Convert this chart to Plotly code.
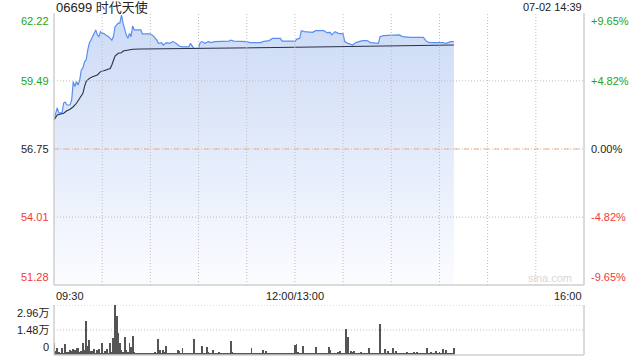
import plotly.graph_objects as go

# ---------------- data ----------------
title_text = "06699 时代天使"
stamp_text = "07-02 14:39"
prev_close = 56.75
y_ticks = [51.28, 54.01, 56.75, 59.49, 62.22]
pct_ticks = ["-9.65%", "-4.82%", "0.00%", "+4.82%", "+9.65%"]
x_tick_labels = ["09:30", "12:00/13:00", "16:00"]
vol_tick_vals = [0, 14800, 29600]
vol_tick_text = ["0", "1.48万", "2.96万"]

price_times = [
    "09:30", "09:32", "09:33", "09:35", "09:36", "09:37", "09:38", "09:40", "09:41", "09:42",
    "09:43", "09:44", "09:45", "09:46", "09:47", "09:48", "09:49", "09:50", "09:51", "09:52",
    "09:53", "09:54", "09:55", "09:56", "09:57", "09:58", "09:59", "10:00", "10:01", "10:02",
    "10:04", "10:05", "10:06", "10:07", "10:08", "10:09", "10:10", "10:11", "10:12", "10:13",
    "10:14", "10:15", "10:16", "10:17", "10:18", "10:19", "10:20", "10:22", "10:24", "10:25",
    "10:30", "10:32", "10:34", "10:35", "10:37", "10:38", "10:40", "10:42", "10:44", "10:46",
    "10:48", "10:50", "10:54", "10:55", "10:56", "10:57", "11:00", "11:01", "11:02", "11:04",
    "11:06", "11:08", "11:10", "11:12", "11:19", "11:20", "11:22", "11:30", "11:32", "11:39",
    "11:40", "11:44", "11:46", "11:51", "11:52", "11:59", "12:00", "13:01", "13:03", "13:04",
    "13:06", "13:11", "13:13", "13:18", "13:20", "13:22", "13:23", "13:25", "13:27", "13:30",
    "13:31", "13:33", "13:36", "13:38", "13:42", "13:45", "13:47", "13:52", "13:53", "13:55",
    "13:59", "14:00", "14:03", "14:05", "14:07", "14:12", "14:20", "14:22", "14:24", "14:28",
    "14:32", "14:34", "14:37", "14:39",
]
price_values = [
    57.92, 58.40, 58.20, 58.20, 58.60, 58.64, 58.52, 58.52, 58.72, 59.46,
    59.26, 59.46, 59.32, 59.52, 59.93, 60.01, 60.26, 60.33, 60.73, 61.01,
    61.13, 61.27, 61.34, 61.54, 61.34, 61.27, 61.47, 61.40, 61.40, 61.34,
    61.27, 61.20, 61.13, 61.27, 61.67, 61.74, 61.81, 61.81, 62.14, 61.81,
    61.54, 61.34, 61.20, 61.40, 61.27, 61.70, 61.54, 61.54, 61.54, 61.38,
    61.38, 61.29, 61.13, 61.00, 61.03, 60.93, 61.03, 61.00, 61.07, 61.00,
    60.89, 60.86, 60.86, 61.00, 60.89, 60.80, 60.80, 61.03, 61.07, 61.00,
    61.07, 61.03, 61.07, 61.07, 61.09, 61.13, 61.09, 61.07, 61.03, 61.03,
    61.07, 61.11, 61.20, 61.20, 61.09, 61.09, 61.07, 61.16, 61.20, 61.51,
    61.47, 61.44, 61.51, 61.51, 61.43, 61.44, 61.34, 61.47, 61.40, 61.38,
    61.07, 61.00, 60.93, 61.03, 61.11, 61.11, 61.03, 61.00, 61.27, 61.31,
    61.31, 61.34, 61.31, 61.34, 61.27, 61.24, 61.24, 61.07, 61.03, 61.04,
    61.03, 61.00, 61.07, 61.07,
]

avg_times = [
    "09:30", "09:32", "09:36", "09:38", "09:40", "09:42", "09:44", "09:46", "09:48", "09:49",
    "09:50", "09:52", "09:54", "09:57", "09:59", "10:01", "10:03", "10:05", "10:06", "10:07",
    "10:08", "10:10", "10:12", "10:13", "10:16", "10:19", "10:24", "11:10", "13:01", "14:39",
]
avg_values = [
    57.92, 58.12, 58.19, 58.29, 58.35, 58.45, 58.59, 58.79, 58.99, 59.26,
    59.46, 59.59, 59.66, 59.73, 59.86, 59.90, 59.96, 59.99, 60.13, 60.33,
    60.49, 60.60, 60.62, 60.69, 60.73, 60.76, 60.77, 60.80, 60.84, 60.93,
]

# one bar per trading minute from 09:30
volumes = [
    7300, 2500, 4300, 1500, 1200, 4300, 800, 6700, 2000, 1600,
    3000, 2600, 3400, 2800, 4000, 4300, 1500, 2200, 7300, 3000,
    20100, 5500, 9100, 2400, 2400, 3300, 1000, 3200, 3800, 1200,
    7300, 1000, 2400, 3500, 1300, 6900, 2000, 10300, 29600, 23300,
    13200, 6900, 3000, 1500, 10900, 3000, 2000, 7300, 4900, 11400,
    2000, 1000, 600, 1400, 900, 700, 1200, 800, 1300, 600,
    900, 1100, 700, 1500, 1200, 9300, 3000, 1000, 3000, 1500,
    5300, 1200, 800, 1000, 600, 1400, 700, 3000, 2400, 900,
    3900, 700, 600, 1100, 800, 900, 1200, 9500, 1000, 700,
    800, 1300, 5300, 900, 1000, 4900, 1500, 1200, 800, 3000,
    1200, 700, 900, 1600, 800, 600, 1000, 1300, 700, 900,
    8300, 1500, 900, 700, 1200, 800, 600, 1100, 900, 700,
    1000, 800, 1200, 4300, 900, 700, 1100, 600, 800, 900,
    3000, 700, 2600, 900, 1000, 600, 1200, 800, 700, 900,
    1100, 700, 900, 600, 800, 1200, 700, 900, 1000, 1300,
    5900, 6500, 1500, 900, 800, 5300, 1200, 700, 900, 600,
    1000, 800, 1300, 4900, 1200, 900, 700, 1100, 800, 600,
    1000, 4900, 3000, 900, 1200, 800, 700, 1500, 2300, 1000,
    900, 1200, 15500, 10900, 1400, 2600, 1600, 2400, 900, 1200,
    800, 2000, 1100, 800, 1400, 900, 4000, 1200, 800, 900,
    700, 1000, 1300, 18300, 1200, 900, 3600, 900, 2400, 800,
    1000, 4000, 700, 2400, 900, 600, 1300, 800, 1000, 700,
    1800, 800, 700, 1000, 1600, 900, 1700, 800, 700, 1000,
    900, 1100, 4100, 800, 700, 1800, 900, 800, 2400, 700,
    1800, 900, 3600, 1000, 2800, 900, 700, 1200, 1000, 4000,
]

grid_minutes = list(range(30, 330, 30))
price_grid = [54.01, 59.49]
vol_grid = [14800, 29600]


def to_idx(t):
    h, m = map(int, t.split(":"))
    mins = h * 60 + m
    if mins <= 12 * 60:
        return mins - (9 * 60 + 30)
    return mins - 13 * 60 + 150


px = [to_idx(t) for t in price_times]
ax = [to_idx(t) for t in avg_times]
vx = list(range(len(volumes)))

GREEN = "#22a322"
RED = "#f03a3a"
FONT = "Liberation Sans, Arial, Noto Sans CJK SC, sans-serif"
BORDER = "#cfcfcf"
GRID = "#bdbdbd"

fig = go.Figure()

fig.add_trace(go.Scatter(
    x=px, y=price_values, mode="lines",
    line=dict(color="#5a8ef0", width=1.2),
    fill="tozeroy",
    fillgradient=dict(type="vertical", start=51.28, stop=62.22,
                      colorscale=[[0, "#fbfcff"], [1, "#cbdaf6"]]),
    xaxis="x", yaxis="y", hoverinfo="skip", showlegend=False,
))
fig.add_trace(go.Scatter(
    x=ax, y=avg_values, mode="lines",
    line=dict(color="#2b3247", width=1.1),
    xaxis="x", yaxis="y", hoverinfo="skip", showlegend=False,
))
fig.add_trace(go.Bar(
    x=vx, y=volumes, width=0.55, marker=dict(color="#555555", line=dict(width=0)),
    xaxis="x2", yaxis="y2", hoverinfo="skip", showlegend=False,
))

main_bottom = 70 / 342
vol_top = 50 / 342

fig.update_layout(
    width=640, height=360,
    margin=dict(l=54, r=56, t=13, b=5),
    paper_bgcolor="white", plot_bgcolor="rgba(0,0,0,0)",
    font=dict(family=FONT, size=11, color="#333"),
    bargap=0,
    xaxis=dict(range=[0, 330], domain=[0, 1], showticklabels=False, showgrid=False,
               zeroline=False, showline=False, anchor="y"),
    yaxis=dict(range=[51.28, 62.22], domain=[main_bottom, 1], showticklabels=False,
               showgrid=False, zeroline=False, showline=False),
    xaxis2=dict(range=[0, 330], domain=[0, 1], showticklabels=False, showgrid=False,
                zeroline=False, showline=False, anchor="y2"),
    yaxis2=dict(range=[0, 29600], domain=[0, vol_top], showticklabels=False,
                showgrid=False, zeroline=False, showline=False),
)

shapes = []
dot = dict(color=GRID, width=1, dash="1px,2px")
for gm in grid_minutes:
    shapes.append(dict(type="line", xref="x", yref="y domain", x0=gm, x1=gm, y0=0, y1=1,
                       line=dot, layer="above"))
for gy in price_grid:
    shapes.append(dict(type="line", xref="x domain", yref="y", x0=0, x1=1, y0=gy, y1=gy,
                       line=dot, layer="above"))
for gy in vol_grid:
    shapes.append(dict(type="line", xref="x2 domain", yref="y2", x0=0, x1=1, y0=gy, y1=gy,
                       line=dot, layer="below"))
# previous close line: gray dots with orange dashes
shapes.append(dict(type="line", xref="x domain", yref="y", x0=0, x1=1,
                   y0=prev_close, y1=prev_close, line=dot, layer="above"))
shapes.append(dict(type="line", xref="x domain", yref="y", x0=0, x1=1,
                   y0=prev_close, y1=prev_close, layer="above",
                   line=dict(color="#efb08e", width=1, dash="5px,5px")))
# borders: left, right, bottom
for xr, yr in (("x domain", "y domain"), ("x2 domain", "y2 domain")):
    shapes.append(dict(type="line", xref=xr, yref=yr, x0=0, x1=0, y0=0, y1=1,
                       line=dict(color=BORDER, width=1.5), layer="above"))
    shapes.append(dict(type="line", xref=xr, yref=yr, x0=1, x1=1, y0=0, y1=1,
                       line=dict(color=BORDER, width=1.5), layer="above"))
    shapes.append(dict(type="line", xref=xr, yref=yr, x0=0, x1=1, y0=0, y1=0,
                       line=dict(color=BORDER, width=1.5), layer="above"))
fig.update_layout(shapes=shapes)

ann = []
colors = [RED, RED, "#222", GREEN, GREEN]
anchors = ["bottom", "middle", "middle", "middle", "top"]
for v, pct, c, ya in zip(y_ticks, pct_ticks, colors, anchors):
    ann.append(dict(x=0, xref="paper", xanchor="right", xshift=-3, y=v, yref="y",
                    yanchor=ya, text=f"{v:.2f}", showarrow=False,
                    font=dict(size=11, color=c, family=FONT)))
    ann.append(dict(x=1, xref="paper", xanchor="left", xshift=5, y=v, yref="y",
                    yanchor=ya, text=pct, showarrow=False,
                    font=dict(size=11, color=c, family=FONT)))

vol_anchors = ["bottom", "middle", "top"]
for v, t, ya in zip(vol_tick_vals, vol_tick_text, vol_anchors):
    ann.append(dict(x=0, xref="paper", xanchor="right", xshift=-3, y=v, yref="y2",
                    yanchor=ya, text=t, showarrow=False,
                    font=dict(size=11, color="#222", family=FONT)))

# time labels
ann.append(dict(x=0, xref="x", xanchor="left", y=main_bottom, yref="paper", yanchor="top",
                yshift=-3, text=x_tick_labels[0], showarrow=False,
                font=dict(size=11, color="#222", family=FONT)))
ann.append(dict(x=150, xref="x", xanchor="center", y=main_bottom, yref="paper",
                yanchor="top", yshift=-3, text=x_tick_labels[1], showarrow=False,
                font=dict(size=11, color="#222", family=FONT)))
ann.append(dict(x=330, xref="x", xanchor="right", y=main_bottom, yref="paper",
                yanchor="top", yshift=-3, text=x_tick_labels[2], showarrow=False,
                font=dict(size=11, color="#222", family=FONT)))

# title and timestamp
ann.append(dict(x=0, xref="paper", xanchor="left", y=1, yref="paper", yanchor="bottom",
                yshift=-4, text=title_text, showarrow=False,
                font=dict(size=13, color="#222", family=FONT)))
ann.append(dict(x=1, xref="paper", xanchor="right", y=1, yref="paper", yanchor="bottom",
                yshift=-2, text=stamp_text, showarrow=False,
                font=dict(size=11, color="#222", family=FONT)))
# watermark
ann.append(dict(x=1, xref="paper", xanchor="right", xshift=-10, y=51.28, yref="y",
                yanchor="bottom", yshift=-1, text="sina.com", showarrow=False,
                font=dict(size=11, color="#d8d8d8", family=FONT)))

fig.update_layout(annotations=ann)
fig.write_html("out.html")
